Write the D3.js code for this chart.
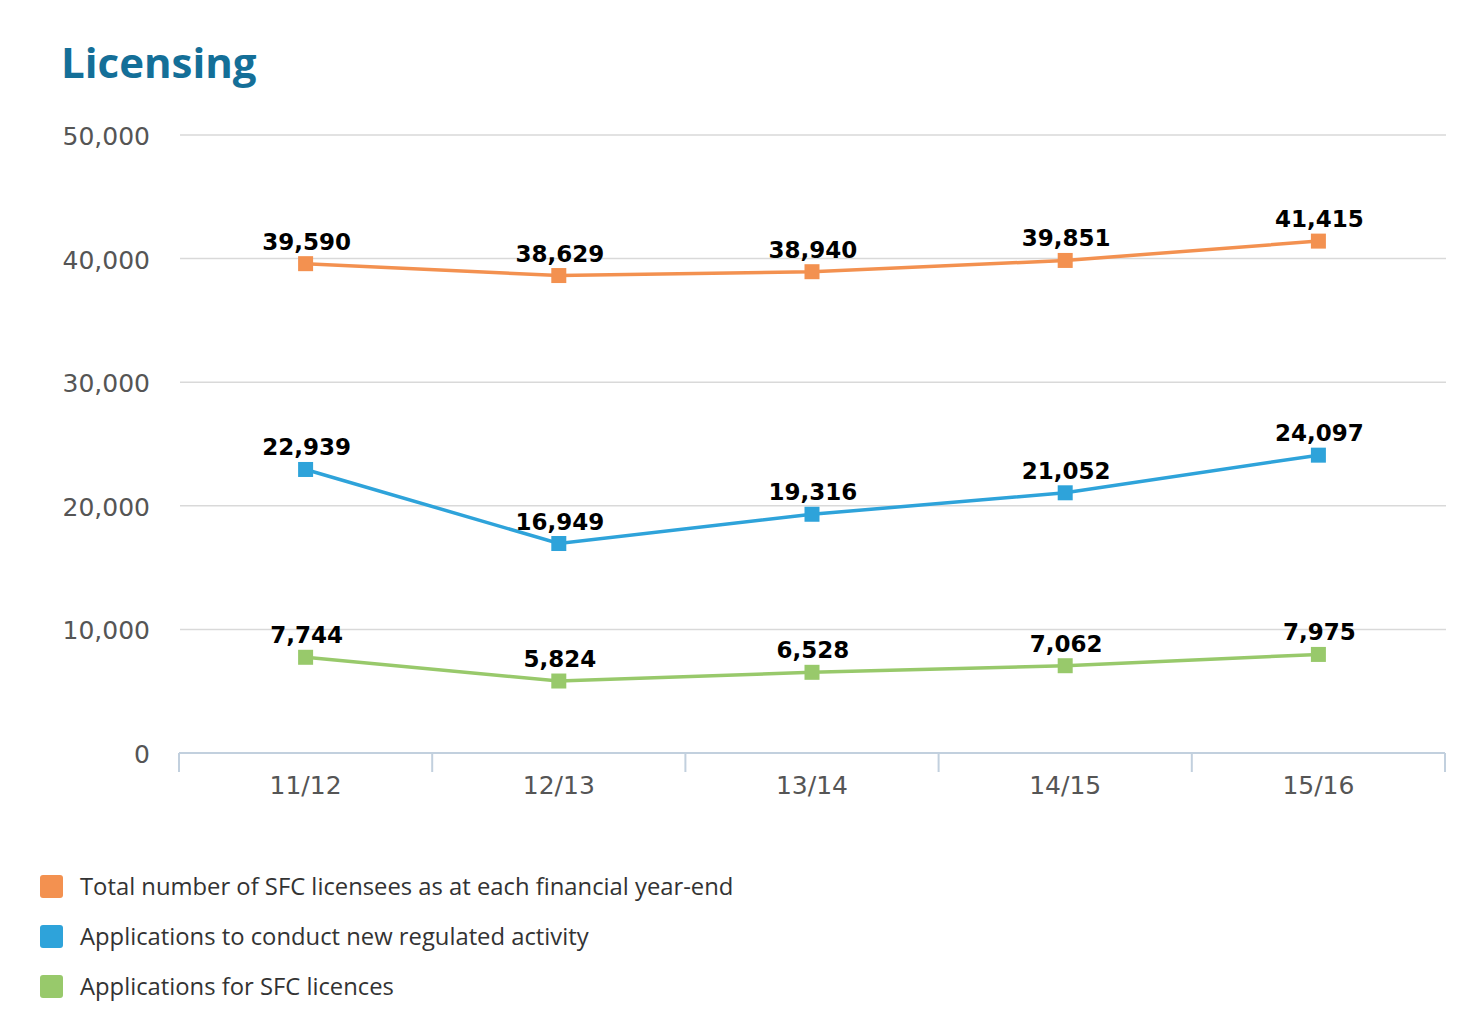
<!DOCTYPE html>
<html>
<head>
<meta charset="utf-8">
<script src="https://cdn.jsdelivr.net/npm/d3@7"></script>
<style>
  body { margin: 0; background: #fff; }
  svg { display: block; }
</style>
</head>
<body>
<svg id="chart" width="1474" height="1030"></svg>
<script>
/*global d3
 */
const categories = ["11/12", "12/13", "13/14", "14/15", "15/16"];
const licensees = [39590, 38629, 38940, 39851, 41415];
const newActivity = [22939, 16949, 19316, 21052, 24097];
const licenceApps = [7744, 5824, 6528, 7062, 7975];
const yTicks = [0, 10000, 20000, 30000, 40000, 50000];

const series = [
  {name: "Total number of SFC licensees as at each financial year-end", values: licensees, color: "#f39150"},
  {name: "Applications to conduct new regulated activity", values: newActivity, color: "#2ea3da"},
  {name: "Applications for SFC licences", values: licenceApps, color: "#98c96b"}
];

let svg = d3.select("#chart");
let plotLeft = 179, plotRight = 1445, plotTop = 135, plotBottom = 753;

let x = d3.scaleBand().domain(categories).range([plotLeft, plotRight]);
let y = d3.scaleLinear().domain([0, 50000]).range([plotBottom, plotTop]);
let fmt = d3.format(",");

svg.append("text")
  .attr("x", 61)
  .attr("y", 78)
  .text("Licensing")
  .style("font-family", "'Open Sans', sans-serif")
  .style("font-weight", "700")
  .style("font-size", "42px")
  .style("fill", "#146f98");

// grid lines + y labels
let grid = svg.append("g");
grid.selectAll("line")
  .data(yTicks.filter(d => d > 0))
  .join("line")
  .attr("x1", plotLeft + 1)
  .attr("x2", plotRight + 1)
  .attr("y1", d => y(d))
  .attr("y2", d => y(d))
  .attr("stroke", "#d9d9d9")
  .attr("stroke-width", 1.5);

grid.selectAll("text")
  .data(yTicks)
  .join("text")
  .attr("x", 150)
  .attr("y", d => y(d) + 10)
  .attr("text-anchor", "end")
  .text(d => fmt(d))
  .style("font-family", "'DejaVu Sans', Verdana, sans-serif")
  .style("font-size", "25px")
  .style("fill", "#555");

// x axis
let xAxis = svg.append("g")
  .attr("transform", "translate(0," + plotBottom + ")");
xAxis.append("line")
  .attr("x1", plotLeft)
  .attr("x2", plotRight)
  .attr("stroke", "#c2d0de")
  .attr("stroke-width", 2);
let bounds = categories.map(c => x(c)).concat([plotRight]);
xAxis.selectAll(".tick")
  .data(bounds)
  .join("line")
  .attr("x1", d => d)
  .attr("x2", d => d)
  .attr("y1", 0)
  .attr("y2", 19)
  .attr("stroke", "#c2d0de")
  .attr("stroke-width", 2);
xAxis.selectAll("text")
  .data(categories)
  .join("text")
  .attr("x", d => x(d) + x.bandwidth() / 2)
  .attr("y", 41)
  .attr("text-anchor", "middle")
  .text(d => d)
  .style("font-family", "'DejaVu Sans', Verdana, sans-serif")
  .style("font-size", "25px")
  .style("fill", "#555");

let cx = d => x(d) + x.bandwidth() / 2;
let line = d3.line()
  .x((d, i) => cx(categories[i]))
  .y(d => y(d));

series.forEach(s => {
  let g = svg.append("g");
  g.append("path")
    .attr("d", line(s.values))
    .attr("fill", "none")
    .attr("stroke", s.color)
    .attr("stroke-width", 3.5);
  g.selectAll("rect")
    .data(s.values)
    .join("rect")
    .attr("x", (d, i) => cx(categories[i]) - 7.5)
    .attr("y", d => y(d) - 7.5)
    .attr("width", 15)
    .attr("height", 15)
    .attr("fill", s.color);
  g.selectAll("text")
    .data(s.values)
    .join("text")
    .attr("x", (d, i) => cx(categories[i]) + 1)
    .attr("y", d => y(d) - 14)
    .attr("text-anchor", "middle")
    .text(d => fmt(d))
    .style("font-family", "'DejaVu Sans', Verdana, sans-serif")
    .style("font-weight", "700")
    .style("font-size", "23px")
    .style("fill", "#000");
});

// legend
let legend = svg.append("g")
  .attr("transform", "translate(40,875)");
let item = legend.selectAll("g")
  .data(series)
  .join("g")
  .attr("transform", (d, i) => "translate(0," + i * 50 + ")");
item.append("rect")
  .attr("width", 23)
  .attr("height", 23)
  .attr("rx", 3)
  .attr("fill", d => d.color);
item.append("text")
  .attr("x", 40)
  .attr("y", 20)
  .text(d => d.name)
  .style("font-family", "'Open Sans', sans-serif")
  .style("font-size", "23.8px")
  .style("fill", "#333");
</script>
</body>
</html>
